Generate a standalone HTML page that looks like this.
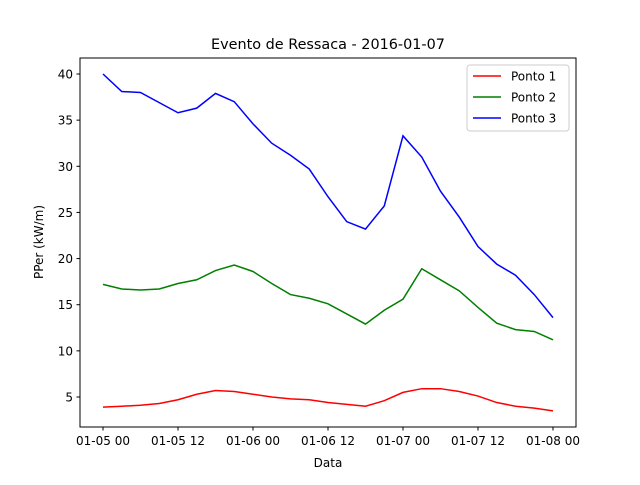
<!DOCTYPE html>
<html><head><meta charset="utf-8"><style>
body{margin:0;background:#fff;}
svg text{font-family:"DejaVu Sans","Liberation Sans",sans-serif;}
</style></head><body>
<svg id="chart" width="640" height="480" xmlns="http://www.w3.org/2000/svg">
<rect width="640" height="480" fill="#fff"/>
<text x="328" y="49" font-size="14.4" text-anchor="middle">Evento de Ressaca - 2016-01-07</text>
<g id="plot"></g>
<rect x="80" y="58" width="496" height="369" fill="none" stroke="#000" stroke-width="1"/>
<text x="328" y="467" font-size="12" text-anchor="middle">Data</text>
<text transform="translate(43,242) rotate(-90)" font-size="12" text-anchor="middle">PPer (kW/m)</text>
<g>
<rect x="467" y="65" width="102" height="66" rx="3" fill="#fff" fill-opacity="0.8" stroke="#ccc"/>
<line x1="473" y1="76" x2="501" y2="76" stroke="red" stroke-width="1.5"/>
<text x="511" y="80.5" font-size="12">Ponto 1</text>
<line x1="473" y1="97" x2="501" y2="97" stroke="green" stroke-width="1.5"/>
<text x="511" y="101.5" font-size="12">Ponto 2</text>
<line x1="473" y1="118" x2="501" y2="118" stroke="blue" stroke-width="1.5"/>
<text x="511" y="122.5" font-size="12">Ponto 3</text>
</g>
</svg>
<script>
const hours = [0,3,6,9,12,15,18,21,24,27,30,33,36,39,42,45,48,51,54,57,60,63,66,69,72];
const ponto1 = [3.9,4.0,4.1,4.3,4.7,5.3,5.7,5.6,5.3,5.0,4.8,4.7,4.4,4.2,4.0,4.6,5.5,5.9,5.9,5.6,5.1,4.4,4.0,3.8,3.5];
const ponto2 = [17.2,16.7,16.6,16.7,17.3,17.7,18.7,19.3,18.6,17.3,16.1,15.7,15.1,14.0,12.9,14.4,15.6,18.9,17.7,16.5,14.7,13.0,12.3,12.1,11.2];
const ponto3 = [40,38.1,38.0,36.9,35.8,36.3,37.9,37.0,34.6,32.5,31.2,29.7,26.7,24.0,23.2,25.7,33.3,31.0,27.3,24.5,21.3,19.4,18.2,16.1,13.6];
const xTickHours = [0,12,24,36,48,60,72];
const xTickLabels = ["01-05 00","01-05 12","01-06 00","01-06 12","01-07 00","01-07 12","01-08 00"];
const yTicks = [5,10,15,20,25,30,35,40];

const NS="http://www.w3.org/2000/svg";
const X = h => 103 + h*450/72;
const Y = v => 397 - (v-5)*323/35;
const g = document.getElementById('plot');
function mk(tag, attrs){const e=document.createElementNS(NS,tag);for(const k in attrs)e.setAttribute(k,attrs[k]);g.appendChild(e);return e;}
xTickHours.forEach((h,i)=>{
  const t=mk('line',{x1:X(h),x2:X(h),y1:427,y2:430.5,stroke:'#000'});
  
  
  const l=mk('text',{x:X(h),y:445,'font-size':12,'text-anchor':'middle'});
  l.textContent=xTickLabels[i];
  
  
});
yTicks.forEach(v=>{
  const t=mk('line',{x1:76.5,x2:80,y1:Y(v),y2:Y(v),stroke:'#000'});
  
  
  const l=mk('text',{x:73,y:Y(v)+4.5,'font-size':12,'text-anchor':'end'});
  l.textContent=v;
  
  
});
[[ponto1,'red','ponto-1-line'],[ponto2,'green','ponto-2-line'],[ponto3,'blue','ponto-3-line']].forEach(([d,c,n])=>{
  const p=mk('polyline',{points:d.map((v,i)=>X(hours[i])+','+Y(v)).join(' '),fill:'none',stroke:c,'stroke-width':1.5});
  
  
});
</script>
</body></html>
